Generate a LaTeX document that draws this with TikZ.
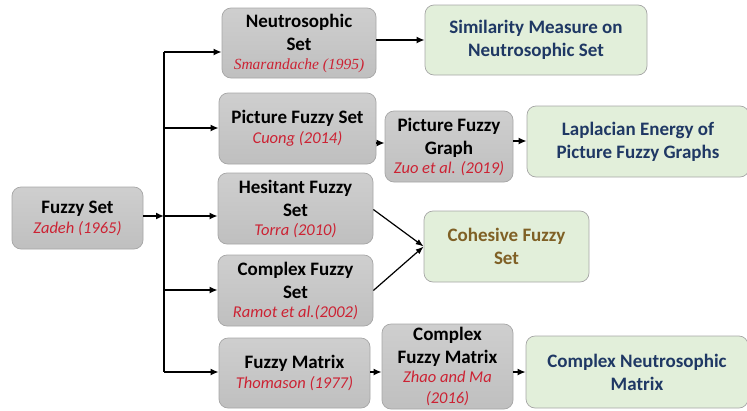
\documentclass[tikz,border=0pt]{standalone}
\usepackage{fontspec}
\setmainfont{Carlito}
\newfontfamily\serifit{Liberation Serif}
\usetikzlibrary{arrows.meta}
\definecolor{authred}{HTML}{CC2233}
\definecolor{navy}{HTML}{1F3864}
\definecolor{olive}{HTML}{7F6025}
\definecolor{greenfill}{HTML}{E2EFDA}
\definecolor{boxline}{HTML}{A6A6A6}
\newcommand\auth[1]{{\fontsize{16.5}{19}\selectfont\mdseries\itshape\color{authred}#1}}
\newcommand\sauth[1]{{\fontsize{15.5}{19}\selectfont\serifit\mdseries\itshape\color{authred}#1}}
\tikzset{
  base/.style={draw=boxline, line width=0.7pt, rounded corners=9pt, align=center,
    inner sep=1pt, font=\fontsize{19}{23}\selectfont\bfseries},
  graybox/.style={base, top color=gray!38, bottom color=gray!50},
  greenbox/.style={base, fill=greenfill, text=navy},
  conn/.style={line width=1.7pt, -{Latex[length=8pt,width=7pt]}},
  thinconn/.style={line width=1.2pt, -{Latex[length=8pt,width=6pt]}}
}
\begin{document}
\begin{tikzpicture}[x=1pt,y=-1pt]
\useasboundingbox (0,0) rectangle (747,410);
% source
\node[graybox, minimum width=131, minimum height=62] (fs) at (77.5,218) {Fuzzy Set\\[-3pt]\auth{Zadeh (1965)}};
% first generation
\node[graybox, minimum width=154, minimum height=70] (ns) at (299,43) {Neutrosophic\\Set\\[-4pt]\sauth{Smarandache (1995)}};
\node[graybox, minimum width=157, minimum height=71] (pfs) at (297.5,128.5) {Picture Fuzzy Set\\[-3pt]\auth{Cuong (2014)}};
\node[graybox, minimum width=155, minimum height=71] (hfs) at (295.5,208.5) {Hesitant Fuzzy\\Set\\[-4pt]\auth{Torra (2010)}};
\node[graybox, minimum width=155, minimum height=71] (cfs) at (295.5,290.5) {Complex Fuzzy\\Set\\[-4pt]\auth{Ramot et al.(2002)}};
\node[graybox, minimum width=151, minimum height=70] (fm) at (294.5,373) {Fuzzy Matrix\\[-3pt]\auth{Thomason (1977)}};
% second generation
\node[graybox, minimum width=128, minimum height=71] (pfg) at (449,146.5) {Picture Fuzzy\\Graph\\[-4pt]\auth{Zuo et al. (2019)}};
\node[graybox, minimum width=131, minimum height=85] (cfm) at (447.5,366.5) {Complex\\Fuzzy Matrix\\[-4pt]\auth{Zhao and Ma}\\[-2pt]\auth{(2016)}};
% results
\node[greenbox, minimum width=222, minimum height=70] (sim) at (536,40) {Similarity Measure on\\Neutrosophic Set};
\node[greenbox, minimum width=222, minimum height=71] (lap) at (638,141.5) {Laplacian Energy of\\Picture Fuzzy Graphs};
\node[greenbox, minimum width=165, minimum height=71, text=olive] (coh) at (506.5,246.5) {Cohesive Fuzzy\\Set};
\node[greenbox, minimum width=222, minimum height=72] (cnm) at (637,372) {Complex Neutrosophic\\Matrix};
% trunk
\coordinate (jn) at (164,216);
\coordinate (top) at (164,52);
\coordinate (bot) at (164,372);
\draw[line width=1.7pt] (top) -- (bot);
\draw[conn] (fs.east |- jn) -- (jn);
\draw[conn] (top) -- (top -| ns.west);
\draw[conn] (164,128) -- (164,128 -| pfs.west);
\draw[conn] (jn) -- (jn -| hfs.west);
\draw[conn] (164,290) -- (164,290 -| cfs.west);
\draw[conn] (bot) -- (bot -| fm.west);
% onward links
\draw[conn] (ns.east |- 0,40) -- (sim.west |- 0,40);
\draw[conn] (pfs.east |- 0,143) -- (pfg.west |- 0,143);
\draw[conn] (pfg.east |- 0,141) -- (lap.west |- 0,141);
\draw[thinconn] ([yshift=-1pt]hfs.east) -- (coh.west);
\draw[thinconn] (cfs.east) -- (coh.west);
\draw[conn] (fm.east |- 0,372) -- (cfm.west |- 0,372);
\draw[conn] (cfm.east |- 0,372) -- (cnm.west |- 0,372);
\end{tikzpicture}
\end{document}
